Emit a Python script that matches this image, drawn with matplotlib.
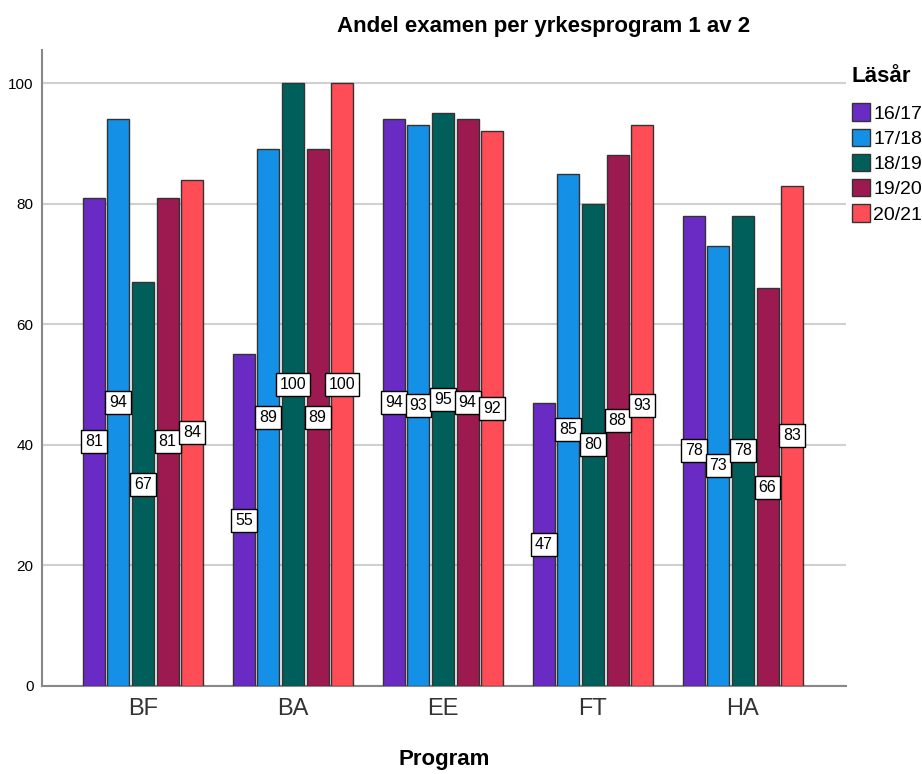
import numpy as np
import matplotlib.pyplot as plt
from matplotlib.patches import Patch

plt.rcParams['font.family'] = ['Liberation Sans', 'DejaVu Sans']

# Data
programs = ['BF', 'BA', 'EE', 'FT', 'HA']
years = ['16/17', '17/18', '18/19', '19/20', '20/21']
v_1617 = [81, 55, 94, 47, 78]
v_1718 = [94, 89, 93, 85, 73]
v_1819 = [67, 100, 95, 80, 78]
v_1920 = [81, 89, 94, 88, 66]
v_2021 = [84, 100, 92, 93, 83]
series = [v_1617, v_1718, v_1819, v_1920, v_2021]
colors = ['#6a2ac4', '#1490e6', '#005f5a', '#9c1a50', '#ff4d57']

fig = plt.figure(figsize=(9.22, 7.74), dpi=100)
ax = fig.add_axes([0.0456, 0.1137, 0.872, 0.8217])

x = np.arange(len(programs))
step = 0.164
width = 0.147
for i, (vals, col) in enumerate(zip(series, colors)):
    pos = x + (i - 2) * step
    ax.bar(pos, vals, width=width, color=col, edgecolor='#333333', linewidth=1.0, zorder=3)
    for p, v in zip(pos, vals):
        ax.text(p, v / 2, str(v), ha='center', va='center', fontsize=11.5, zorder=4,
                bbox=dict(boxstyle='square,pad=0.25', fc='white', ec='black', lw=1.0))

ax.set_xlim(-0.673, 4.687)
ax.set_ylim(0, 105.5)
ax.set_yticks([0, 20, 40, 60, 80, 100])
ax.yaxis.grid(True, color='#d0d0d0', linewidth=1.5, zorder=0)
ax.set_axisbelow(True)
ax.tick_params(axis='y', length=0, labelsize=11, pad=6)
ax.tick_params(axis='x', length=0, labelsize=17, pad=9, labelcolor='#333333')
ax.set_xticks(x)
ax.set_xticklabels(programs)
for s in ['top', 'right']:
    ax.spines[s].set_visible(False)
for s in ['left', 'bottom']:
    ax.spines[s].set_color('#888888')
    ax.spines[s].set_linewidth(1.5)

fig.text(0.59, 0.966, 'Andel examen per yrkesprogram 1 av 2', ha='center', va='center',
         fontsize=16, fontweight='bold')
fig.text(0.482, 0.005, 'Program', ha='center', va='bottom', fontsize=16, fontweight='bold')

handles = [Patch(facecolor=c, edgecolor='#333333', label=y) for y, c in zip(years, colors)]
leg = fig.legend(handles=handles, loc='upper left', bbox_to_anchor=(0.924, 0.915),
                 frameon=False, fontsize=14, title='Läsår', handlelength=0.95,
                 handleheight=1.0, handletextpad=0.15, labelspacing=0.3,
                 borderaxespad=0, borderpad=0)
leg.get_title().set_fontweight('bold')
leg.get_title().set_fontsize(16)
leg._legend_box.align = 'left'
leg._legend_box.sep = 12

fig.savefig('out.png', dpi=100)
